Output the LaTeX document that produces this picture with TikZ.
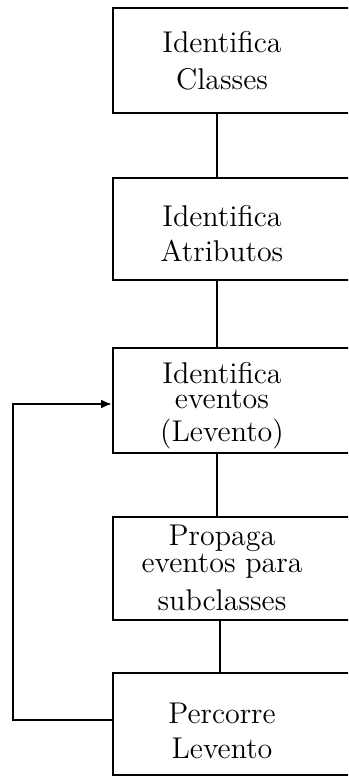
\documentclass[tikz,border=0pt]{standalone}
\usetikzlibrary{arrows.meta}
\begin{document}
\begin{tikzpicture}[x=0.4pt,y=-0.4pt,
  box/.style={draw,line width=0.8pt,minimum width=98.8pt,inner sep=0pt,anchor=center},
  lbl/.style={align=center,anchor=base,inner sep=0pt,font=\fontsize{12}{14}\selectfont},
  conn/.style={line width=0.8pt}]
\useasboundingbox (0,0) rectangle (348,777);
\clip (0,0) rectangle (348,777);
\node[box,minimum height=42pt]   (b1) at (236.5,60.5) {};
\node[box,minimum height=40.8pt] (b2) at (236.5,229) {};
\node[box,minimum height=42pt]   (b3) at (236.5,400.5) {};
\node[box,minimum height=41.2pt] (b4) at (236.5,568.5) {};
\node[box,minimum height=40.8pt] (b5) at (236.5,724) {};
\node[lbl] (t1) at (222,90) {Identifica\\[0.8pt]Classes};
\node[lbl] (t2) at (222,262) {Identifica\\Atributos};
\node[lbl] (t3) at (222,441) {Identifica\\[-4pt]eventos\\[-0.8pt](Levento)};
\node[lbl] (t4) at (222,610) {Propaga\\[-3.2pt]eventos para\\[1.2pt]subclasses};
\node[lbl] (t5) at (222,758) {Percorre\\Levento};
\draw[conn] ([xshift=-7.8pt]b1.south) -- ([xshift=-7.8pt]b2.north);
\draw[conn] ([xshift=-7.8pt]b2.south) -- ([xshift=-7.8pt]b3.north);
\draw[conn] ([xshift=-7.8pt]b3.south) -- ([xshift=-7.8pt]b4.north);
\draw[conn] ([xshift=-6.6pt]b4.south) -- ([xshift=-6.6pt]b5.north);
\draw[conn,-{Latex[length=4.4pt,width=3.6pt]}] ([yshift=1.6pt]b5.west) -- ++(-99,0) |- ([yshift=-1.4pt]b3.west);
\end{tikzpicture}
\end{document}
